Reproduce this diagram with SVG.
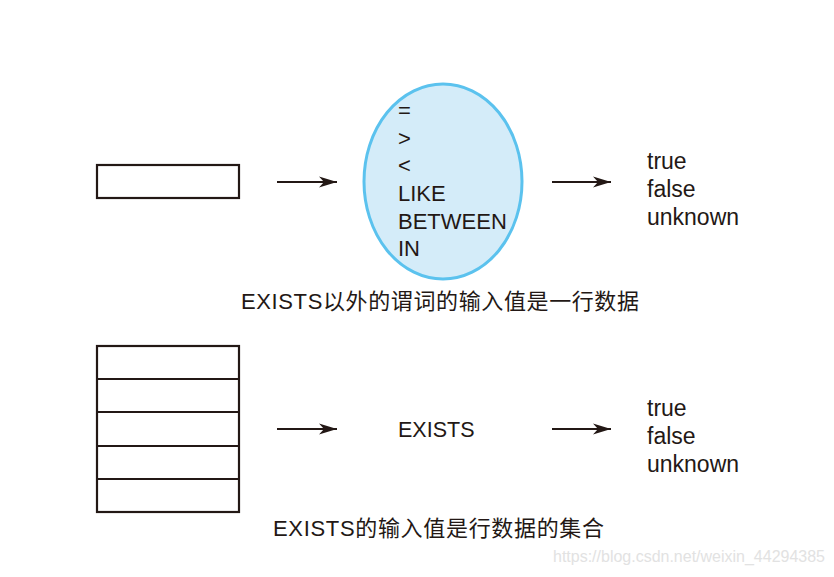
<svg xmlns="http://www.w3.org/2000/svg" width="834" height="577" viewBox="0 0 834 577">
<style>
text{font-family:"Liberation Sans","Noto Sans CJK SC",sans-serif;fill:#231815}
.t{font-size:22px}
.r{font-size:23px}
.box{fill:none;stroke:#231815;stroke-width:2.2}
.arr{stroke:#231815;stroke-width:2;fill:none}
.wm{font-size:16px;fill:#e2e2e2}
</style>
<defs>
<marker id="ah" markerUnits="userSpaceOnUse" markerWidth="20" markerHeight="14" viewBox="-19 -7 20 14" refX="0" refY="0" orient="auto">
<path d="M0,0 L-18,-5.5 L-13,0 L-18,5.5 Z" fill="#231815"/>
</marker>
</defs>
<rect width="834" height="577" fill="#ffffff"/>
<g id="connectors">
<line class="arr" x1="277" y1="182" x2="337" y2="182" marker-end="url(#ah)"/>
<line class="arr" x1="552" y1="182" x2="611" y2="182" marker-end="url(#ah)"/>
<line class="arr" x1="277" y1="429" x2="337" y2="429" marker-end="url(#ah)"/>
<line class="arr" x1="552" y1="429" x2="611" y2="429" marker-end="url(#ah)"/>
</g>
<g id="row-input">
<rect class="box" x="97" y="165" width="142" height="33"/>
</g>
<g id="predicates">
<ellipse cx="443" cy="181.5" rx="79" ry="97.5" fill="#d4ecf9" stroke="#5bc2ee" stroke-width="3"/>
<text class="t" x="398" y="118">=</text>
<text class="t" x="398" y="146">&gt;</text>
<text class="t" x="398" y="173">&lt;</text>
<text class="t" x="398" y="201">LIKE</text>
<text class="t" x="398" y="229">BETWEEN</text>
<text class="t" x="398" y="256">IN</text>
</g>
<g id="result-top">
<text class="r" x="647" y="169">true</text>
<text class="r" x="647" y="197">false</text>
<text class="r" x="647" y="225">unknown</text>
</g>
<g id="caption-top">
<text class="t" x="241" y="309" textLength="398" lengthAdjust="spacing">EXISTS以外的谓词的输入值是一行数据</text>
</g>
<g id="table-input">
<rect class="box" x="97" y="346" width="142" height="166"/>
<line class="box" x1="96" y1="379" x2="240" y2="379"/>
<line class="box" x1="96" y1="412" x2="240" y2="412"/>
<line class="box" x1="96" y1="446" x2="240" y2="446"/>
<line class="box" x1="96" y1="479" x2="240" y2="479"/>
</g>
<g id="exists">
<text x="398" y="437" style="font-size:21.5px">EXISTS</text>
</g>
<g id="result-bottom">
<text class="r" x="647" y="416">true</text>
<text class="r" x="647" y="444">false</text>
<text class="r" x="647" y="472">unknown</text>
</g>
<g id="caption-bottom">
<text class="t" x="273" y="536" textLength="331" lengthAdjust="spacing">EXISTS的输入值是行数据的集合</text>
</g>
<text class="wm" x="553" y="562" textLength="272" lengthAdjust="spacingAndGlyphs">https://blog.csdn.net/weixin_44294385</text>
</svg>
